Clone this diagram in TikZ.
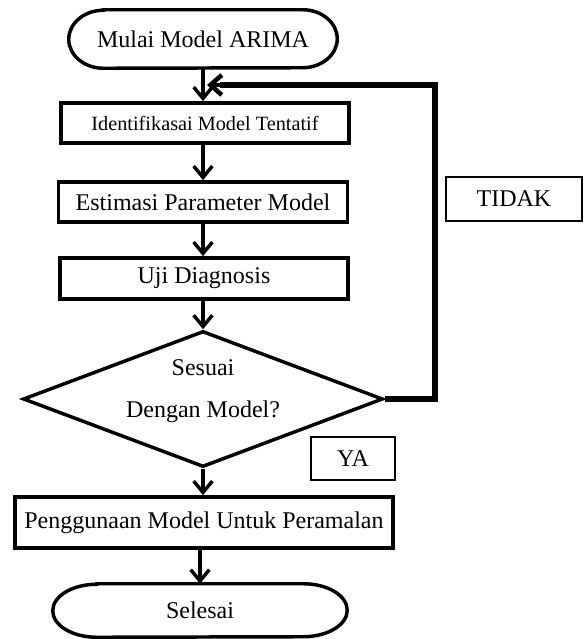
\documentclass[tikz,border=0pt]{standalone}
\usepackage{fontspec}
\setmainfont{Liberation Serif}
\usetikzlibrary{arrows.meta,shapes.geometric}
\begin{document}
\begin{tikzpicture}[x=0.75pt,y=-0.75pt,
  arr/.style={line width=2.6pt,-{Straight Barb[length=8.5pt,width=14pt,line width=2.6pt]}},
  procbox/.style={draw,line width=2.8pt,rectangle,inner sep=0pt,font=\fontsize{18}{22}\selectfont},
  lblbox/.style={draw,line width=1pt,rectangle,inner sep=0pt,font=\fontsize{18}{22}\selectfont},
  term/.style={rectangle,inner sep=0pt,font=\fontsize{18}{22}\selectfont},
  fbline/.style={line width=4.2pt,line join=miter}]
\useasboundingbox (0,0) rectangle (586,639);
% start terminal
\node[term,minimum width=201pt,minimum height=43.5pt] (start) at (203,39) {Mulai Model ARIMA};
\draw[line width=2.6pt] ([xshift=26pt]start.north west) -- ([xshift=-26pt]start.north east)
  arc[start angle=90,end angle=-90,x radius=26pt,y radius=21.75pt]
  -- ([xshift=26pt]start.south west)
  arc[start angle=270,end angle=90,x radius=26pt,y radius=21.75pt] -- cycle;
% process boxes
\node[procbox,minimum width=216pt,minimum height=30pt,font=\fontsize{15.2}{18}\selectfont] (b1) at (205,123) {Identifikasai Model Tentatif};
\node[procbox,minimum width=216.75pt,minimum height=30pt] (b2) at (203,202) {Estimasi Parameter Model};
\node[procbox,minimum width=216pt,minimum height=30.75pt] (b3) at (204,278.5) {Uji Diagnosis};
% decision
\node[diamond,draw,line width=2.6pt,inner sep=0pt,minimum width=270pt,minimum height=102pt] (d) at (203,399) {};
\node[term,align=center] (dtxt) at (203,391) {Sesuai\\[9pt]Dengan Model?};
% use and end
\node[procbox,minimum width=283.5pt,minimum height=38.25pt] (b4) at (204,522.5) {Penggunaan Model Untuk Peramalan};
\node[term,minimum width=220.5pt,minimum height=39.75pt] (stop) at (200,610.5) {Selesai};
\draw[line width=2.6pt] ([xshift=33pt]stop.north west) -- ([xshift=-33pt]stop.north east)
  arc[start angle=90,end angle=-90,x radius=33pt,y radius=19.875pt]
  -- ([xshift=33pt]stop.south west)
  arc[start angle=270,end angle=90,x radius=33pt,y radius=19.875pt] -- cycle;
% label boxes
\node[lblbox,minimum width=63pt,minimum height=32.25pt] (ya) at (353,458.5) {YA\hspace{12pt}};
\node[lblbox,minimum width=102pt,minimum height=33pt] (tidak) at (514,199) {TIDAK};
% connectors
\draw[arr] (203,68) coordinate (s1) -- (s1 |- b1.north);
\draw[arr] (b1.south -| b2.north) -- (b2.north);
\draw[arr] (b2.south) -- (b3.north -| b2.south);
\draw[arr] (b3.south -| d.north) -- (d.north);
\draw[arr] (d.south) -- (b4.north -| d.south);
\draw[arr] (b4.south -| stop.north) -- (stop.north);
% feedback loop
\coordinate (fbc) at (435,85);
\coordinate (fbin) at (207,85);
\draw[fbline] (d.east) -| (fbc) -- ([xshift=10pt]fbin);
\draw[line width=3.4pt,-{Straight Barb[length=8.5pt,width=15pt,line width=3.4pt]}] ([xshift=12pt]fbin) -- (fbin);
\end{tikzpicture}
\end{document}
